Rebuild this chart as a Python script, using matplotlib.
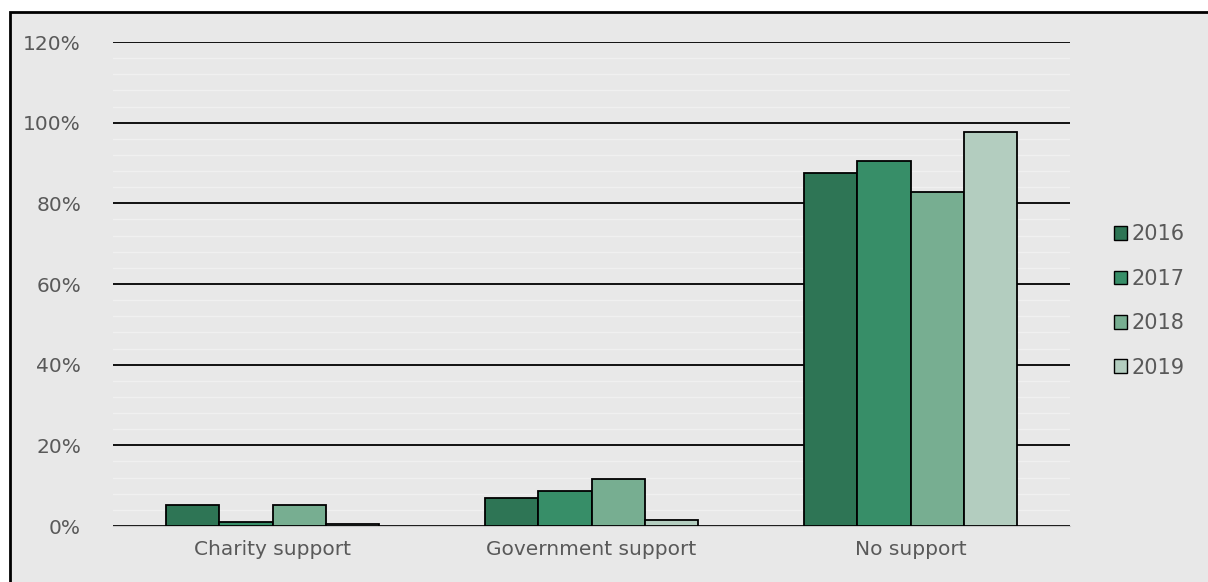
import matplotlib.pyplot as plt
import numpy as np
from matplotlib.patches import Rectangle, Patch

# Data
categories = ["Charity support", "Government support", "No support"]
years = ["2016", "2017", "2018", "2019"]
values = {
    "2016": [5.2, 7.0, 87.4],
    "2017": [0.9, 8.6, 90.4],
    "2018": [5.2, 11.7, 82.9],
    "2019": [0.5, 1.4, 97.8],
}
colors = ["#2e7555", "#378e68", "#77ae91", "#b3cdbf"]

BG = "#e8e8e8"
TXT = "#595959"

fig = plt.figure(figsize=(12.08, 5.82), dpi=100)
fig.patch.set_facecolor("white")
# chart area with border
fig.patches.append(Rectangle((10 / 1208, -0.01), 1.01 - 10 / 1208, 1.01 - 12 / 582,
                             transform=fig.transFigure, facecolor=BG,
                             edgecolor="black", linewidth=2, zorder=-10))

ax = fig.add_axes([113 / 1208, 1 - 526 / 582, (1070 - 113) / 1208, (526 - 42) / 582])
ax.set_facecolor(BG)

x = np.arange(len(categories))
w = 0.1675
for i, yr in enumerate(years):
    ax.bar(x + (i - 1.5) * w, values[yr], width=w, color=colors[i],
           edgecolor="black", linewidth=1.3, label=yr, zorder=3)

ax.set_xlim(-0.5, 2.5)
ax.set_ylim(0, 120)
ax.set_yticks(np.arange(0, 121, 20))
ax.set_yticklabels([f"{v}%" for v in range(0, 121, 20)])
ax.set_yticks(np.arange(0, 121, 4), minor=True)
ax.grid(axis="y", which="minor", color="#f0f0f0", linewidth=1.0, zorder=0)
ax.grid(axis="y", which="major", color="black", linewidth=1.3, zorder=1)
ax.set_axisbelow(True)
ax.set_xticks(x)
ax.set_xticklabels(categories)
ax.tick_params(axis="both", which="both", length=0, labelsize=14.5, labelcolor=TXT)
ax.tick_params(axis="y", pad=23)
ax.tick_params(axis="x", pad=10)
for s in ["top", "right", "left"]:
    ax.spines[s].set_visible(False)
ax.spines["bottom"].set_color("#c8c8c8")

handles = [Patch(facecolor=c, edgecolor="black", label=y) for c, y in zip(colors, years)]
leg = fig.legend(handles=handles, loc="center left", bbox_to_anchor=(1095 / 1208, 1 - 301 / 582),
                 frameon=False, fontsize=15, handlelength=0.65, handleheight=0.65,
                 handletextpad=0.2, labelspacing=1.17)
for t in leg.get_texts():
    t.set_color(TXT)

fig.savefig("out.png", dpi=100, facecolor=fig.get_facecolor())
